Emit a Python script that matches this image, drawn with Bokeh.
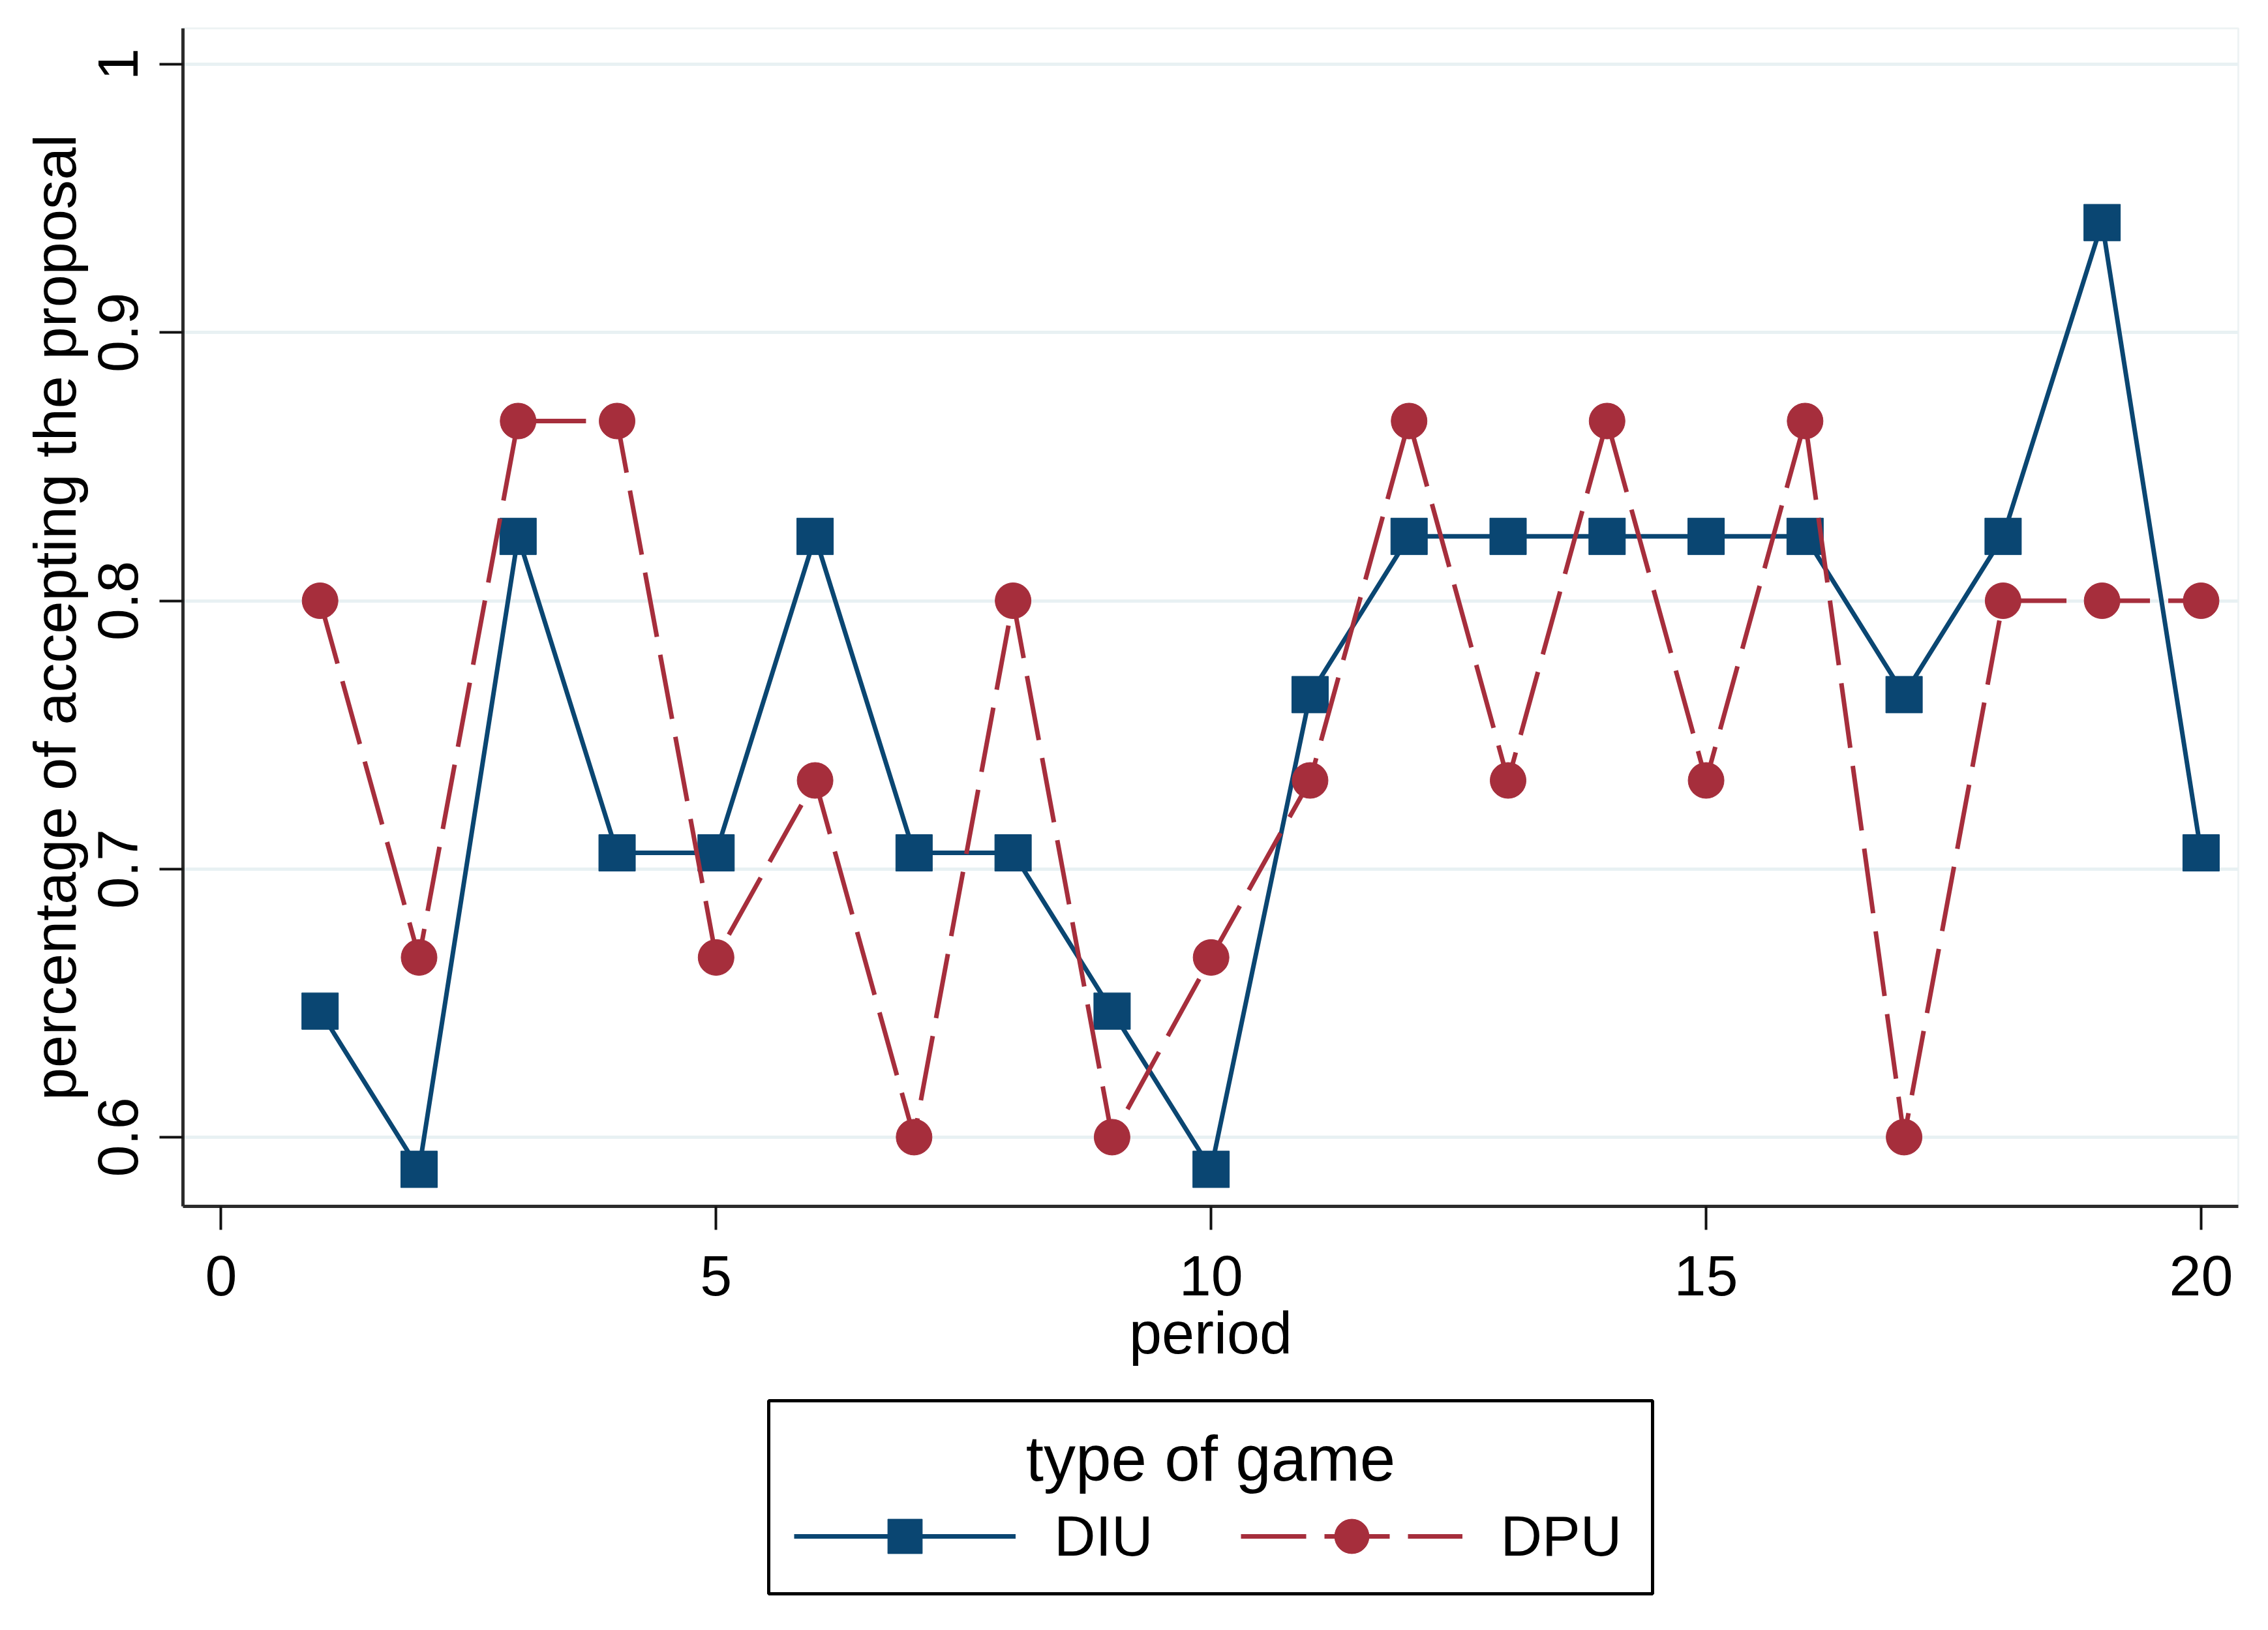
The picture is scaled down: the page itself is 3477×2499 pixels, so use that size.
from bokeh.plotting import figure
from bokeh.layouts import column
from bokeh.models import (Range1d, FixedTicker, Legend, LegendItem, ColumnDataSource,
                          Label, BoxAnnotation)
from bokeh.embed import file_html
from bokeh.resources import INLINE

# ---- data ----
period = list(range(1, 21))
diu = [0.647, 0.588, 0.824, 0.706, 0.706, 0.824, 0.706, 0.706, 0.647, 0.588,
       0.765, 0.824, 0.824, 0.824, 0.824, 0.824, 0.765, 0.824, 0.941, 0.706]
dpu = [0.800, 0.667, 0.867, 0.867, 0.667, 0.733, 0.600, 0.800, 0.600, 0.667,
       0.733, 0.867, 0.733, 0.867, 0.733, 0.867, 0.600, 0.800, 0.800, 0.800]
series_names = ["DIU", "DPU"]
x_ticks = [0, 5, 10, 15, 20]
y_ticks = [0.6, 0.7, 0.8, 0.9, 1]
y_tick_labels = ["0.6", "0.7", "0.8", "0.9", "1"]
x_title = "period"
y_title = "percentage of accepting the proposal"
legend_title = "type of game"

NAVY = "#0a4672"
MAROON = "#a62e3c"
FONT = "Liberation Sans"
W = 3461
FL, FR = 280, 3431          # frame left / right (pixels)

src = ColumnDataSource(dict(period=period, diu=diu, dpu=dpu))

# ---------------- main plot ----------------
p = figure(width=W, height=2139, output_backend="svg", toolbar_location=None,
           x_range=Range1d(-0.385, 20.376), y_range=Range1d(0.5742, 1.0134),
           min_border_left=FL, min_border_right=W - FR,
           min_border_top=43, min_border_bottom=290)
p.background_fill_color = "white"
p.border_fill_color = "white"
p.outline_line_color = "#eef3f4"
p.outline_line_width = 3

p.xgrid.visible = False
p.ygrid.grid_line_color = "#e8f1f3"
p.ygrid.grid_line_width = 5
p.ygrid.ticker = FixedTicker(ticks=y_ticks)

for ax in (p.xaxis[0], p.yaxis[0]):
    ax.axis_line_color = "#2b2b2b"
    ax.axis_line_width = 5
    ax.major_tick_line_color = "#111111"
    ax.major_tick_line_width = 4
    ax.major_tick_out = 36
    ax.major_tick_in = 0
    ax.minor_tick_line_color = None
    ax.major_label_text_font = FONT
    ax.major_label_text_font_size = "88px"
    ax.major_label_text_color = "black"
    ax.axis_label_text_font = FONT
    ax.axis_label_text_font_size = "90px"
    ax.axis_label_text_font_style = "normal"
    ax.axis_label_text_color = "black"

p.xaxis.ticker = FixedTicker(ticks=x_ticks)
p.yaxis.ticker = FixedTicker(ticks=y_ticks)
p.yaxis.major_label_overrides = dict(zip(y_ticks, y_tick_labels))
p.yaxis.major_label_orientation = "vertical"
p.xaxis.axis_label = x_title
p.yaxis.axis_label = y_title
p.xaxis.major_label_standoff = 40
p.xaxis.axis_label_standoff = 5
p.yaxis.major_label_standoff = 33
p.yaxis.axis_label_standoff = 14

line_kw = [dict(line_color=NAVY, line_width=7),
           dict(line_color=MAROON, line_width=7, line_dash="100 28")]
mark_kw = [dict(marker="square", size=56, fill_color=NAVY, line_color=NAVY, line_width=1),
           dict(marker="circle", size=55, fill_color=MAROON, line_color=MAROON, line_width=1)]

p.line("period", "diu", source=src, **line_kw[0])
p.scatter("period", "diu", source=src, **mark_kw[0])
p.line("period", "dpu", source=src, **line_kw[1])
p.scatter("period", "dpu", source=src, **mark_kw[1])

# ---------------- legend panel ----------------
H2 = 2483 - 2139
# the column aligns this frame with the plot frame (FL..FR), so use pixel ranges
q = figure(width=W, height=H2, output_backend="svg", toolbar_location=None,
           x_range=Range1d(FL, FR), y_range=Range1d(0, H2),
           x_axis_location=None, y_axis_location=None,
           min_border=0, min_border_left=FL, min_border_right=W - FR,
           min_border_top=0, min_border_bottom=0)
q.grid.visible = False
q.outline_line_color = None
q.background_fill_color = "white"
q.border_fill_color = "white"

# legend proxies (a single undefined point: nothing drawn, only the styles are used)
proxy = ColumnDataSource(dict(x=[float("nan")], y=[float("nan")]))
items = []
for i, name in enumerate(series_names):
    lr = q.line("x", "y", source=proxy, **line_kw[i])
    mr = q.scatter("x", "y", source=proxy, **mark_kw[i])
    items.append(LegendItem(label=name, renderers=[lr, mr]))

box = BoxAnnotation(left=1178, right=2533, bottom=2483 - 2443, top=2483 - 2147,
                    fill_color="white", fill_alpha=1.0,
                    line_color="black", line_width=5, line_alpha=1.0)
q.add_layout(box)

legend = Legend(items=items, orientation="horizontal",
                location=(1217 - FL, 2483 - 2421))
legend.label_text_font = FONT
legend.label_text_font_size = "88px"
legend.label_text_color = "black"
legend.glyph_width = 340
legend.glyph_height = 132
legend.label_standoff = 59
legend.spacing = 134
legend.padding = 0
legend.margin = 0
legend.border_line_color = None
legend.background_fill_alpha = 0.0
q.add_layout(legend, "center")

title = Label(x=(1178 + 2533) / 2, y=2483 - 2272 + 37, text=legend_title,
              text_align="center", text_baseline="alphabetic",
              text_font=FONT, text_font_size="98px", text_color="black")
q.add_layout(title)

layout = column(p, q, spacing=0)
open("out.html", "w").write(file_html(layout, INLINE))
